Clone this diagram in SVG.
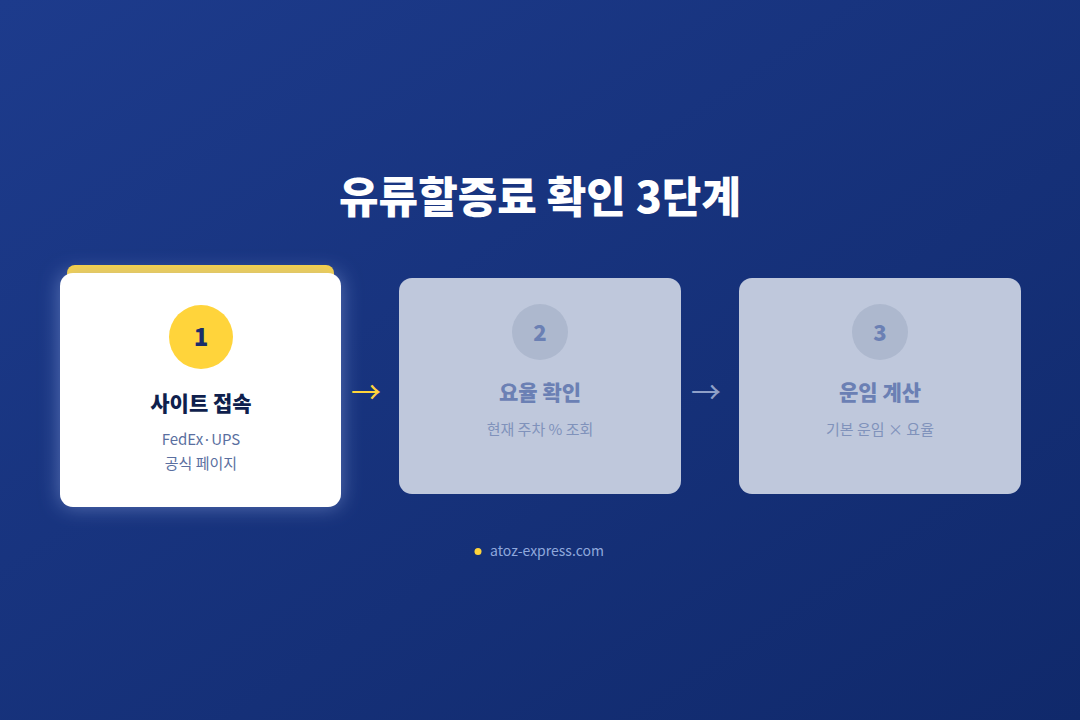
<svg xmlns="http://www.w3.org/2000/svg" width="1080" height="720" viewBox="0 0 1080 720">
  <defs>
    <linearGradient id="bg" x1="0" y1="0" x2="1" y2="1">
      <stop offset="0" stop-color="#1d3b8c"/>
      <stop offset="1" stop-color="#10296b"/>
    </linearGradient>
    <filter id="glow" x="-30%" y="-30%" width="160%" height="160%">
      <feDropShadow dx="0" dy="0" stdDeviation="10" flood-color="#8fa6e0" flood-opacity="0.55"/>
    </filter>
    <style>
      text { font-family: "Noto Sans CJK KR", "Noto Sans", sans-serif; text-anchor: middle; }
      .title { font-size: 43px; font-weight: 900; fill: #ffffff; }
      .num { font-size: 24px; font-weight: 800; }
      .h { font-size: 21px; font-weight: 800; }
      .sub { font-size: 15px; }
      .dim { fill: #bfc8dc; }
      .dimc { fill: #adb8ce; }
      .dimt { fill: #6b80b4; }
      .dims { fill: #8092bb; }
      .arrow { font-size: 30px; }
    </style>
  </defs>
  <rect width="1080" height="720" fill="url(#bg)"/>
  <text class="title" x="540" y="213">유류할증료 확인 3단계</text>

  <g id="step1">
    <rect x="67" y="265" width="267" height="30" rx="8" fill="#ffd43b"/>
    <rect x="60" y="273" width="281" height="234" rx="13" fill="#ffffff" filter="url(#glow)"/>
    <circle cx="201" cy="337" r="32" fill="#ffd43b"/>
    <text class="num" x="201" y="346" fill="#1a2d6b">1</text>
    <text class="h" x="201" y="411" fill="#0f1f4d">사이트 접속</text>
    <text class="sub" x="201" y="445" fill="#5a6fa0">FedEx·UPS</text>
    <text class="sub" x="201" y="469" fill="#5a6fa0">공식 페이지</text>
  </g>

  <g id="step2">
    <rect class="dim" x="399" y="278" width="282" height="216" rx="13"/>
    <circle class="dimc" cx="540" cy="332" r="28"/>
    <text class="num dimt" x="540" y="341" style="font-size:22px">2</text>
    <text class="h dimt" x="540" y="400">요율 확인</text>
    <text class="sub dims" x="540" y="435">현재 주차 % 조회</text>
  </g>

  <g id="step3">
    <rect class="dim" x="739" y="278" width="282" height="216" rx="13"/>
    <circle class="dimc" cx="880" cy="332" r="28"/>
    <text class="num dimt" x="880" y="341" style="font-size:22px">3</text>
    <text class="h dimt" x="880" y="400">운임 계산</text>
    <text class="sub dims" x="880" y="435">기본 운임 × 요율</text>
  </g>

  <g id="connectors">
    <text class="arrow" x="366" y="403" fill="#ffd43b">→</text>
    <text class="arrow" x="706" y="403" fill="#8fa0c8">→</text>
  </g>

  <g id="footer">
    <circle cx="478" cy="551.5" r="3.5" fill="#ffd43b"/>
    <text x="547" y="556" style="font-size:14px" fill="#8fa8dc">atoz-express.com</text>
  </g>
</svg>
